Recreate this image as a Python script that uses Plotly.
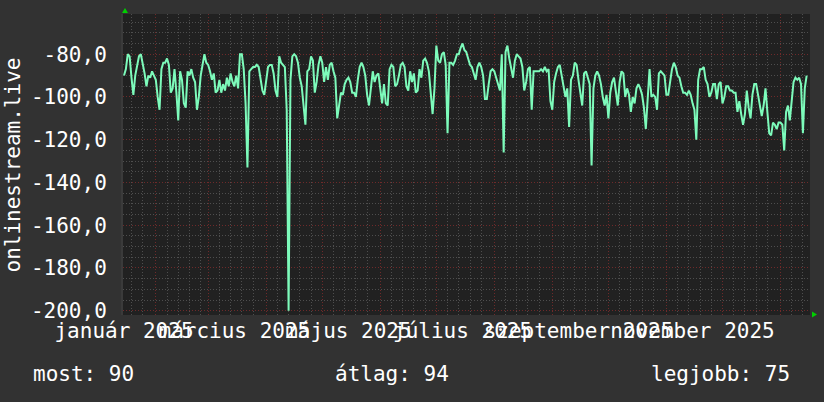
import pandas as pd
import plotly.graph_objects as go

# ---------------- data ----------------
start_date = "2025-01-15"
values = [
    -90, -87, -80, -81, -91, -99, -90, -85, -81, -80,
    -84, -89, -95, -90, -91, -88, -90, -92, -100, -106,
    -87, -84, -84, -82, -85, -98, -96, -87, -98, -111,
    -88, -92, -103, -105, -88, -90, -87, -91, -93, -106,
    -100, -90, -85, -80, -84, -85, -88, -92, -89, -98,
    -97, -92, -98, -94, -97, -91, -95, -89, -93, -95,
    -90, -96,
    -80, -80, -87, -103, -133, -88, -87, -86, -86, -85,
    -86, -91, -97, -99, -91, -86, -85, -85, -89, -97,
    -100, -81, -84, -85, -86, -106, -200, -92, -81, -80,
    -81, -84, -91, -95, -104, -113, -88, -87, -81, -83,
    -98, -93, -85, -81, -84, -93, -86, -92, -85, -84,
    -88, -91, -110, -104, -98, -99, -94, -92,
    -91, -93, -98, -98, -100, -92, -86, -84, -86, -90,
    -99, -104, -94, -88, -93, -90, -89, -95, -103, -94,
    -103, -104, -87, -85, -86, -95, -94, -90, -85, -84,
    -86, -95, -97, -88, -93, -89, -98, -97, -87, -91,
    -83, -82, -84, -88, -100, -108, -96, -76, -83, -84,
    -80, -79, -85, -117, -84, -84, -85, -83, -80, -80,
    -77, -75,
    -78, -79, -82, -85, -86, -89, -92, -86, -84, -86,
    -90, -101, -101, -94, -88, -87, -88, -91, -94, -97,
    -80, -126, -79, -76, -82, -86, -91, -83, -80, -81,
    -82, -86, -97, -93, -87, -86, -106, -88, -88, -88,
    -88, -87, -88, -86, -88, -87, -102, -106, -93, -89,
    -86, -85, -90, -94, -100, -96, -114, -92, -90, -84,
    -85, -92,
    -99, -104, -89, -88, -91, -94, -132, -96, -90, -88,
    -90, -94, -100, -104, -99, -110, -98, -93, -91, -97,
    -104, -93, -88, -89, -100, -96, -99, -107, -100, -103,
    -96, -94, -96, -99, -105, -115, -98, -87, -100, -99,
    -100, -106, -89, -88, -89, -90, -99, -99, -93, -87,
    -84, -86, -90, -91, -95, -98, -98, -99, -97, -99,
    -103, -106, -120, -92, -87, -87, -86, -92, -94, -100,
    -98, -94, -94, -101, -94, -93, -103, -100, -95, -95,
    -97, -97, -98, -98, -107, -102, -108, -113, -108, -97,
    -105, -110, -99, -94, -94, -99, -103, -109, -104, -96,
    -107, -117, -118, -112, -113, -115, -112, -112, -113, -125,
    -107, -104, -111, -100, -93, -91, -92, -91, -94, -117,
    -96, -90,
]
dates = pd.date_range(start_date, periods=len(values), freq="D")

x_label_dates = ["2025-01-15", "2025-03-15", "2025-05-15",
                 "2025-07-15", "2025-09-15", "2025-11-15"]
x_label_text = ["január 2025", "március 2025", "május 2025",
                "július 2025", "szeptember 2025", "november 2025"]

y_tick_vals = [-200, -180, -160, -140, -120, -100, -80]
y_tick_text = ["-200,0", "-180,0", "-160,0", "-140,0", "-120,0", "-100,0", "-80,0"]

y_title = "onlinestream.live"
stats_text = ["most: 90", "átlag: 94", "legjobb: 75"]

# grid positions (month starts = major, subdivisions = minor)
month_starts = pd.date_range("2025-02-01", "2026-01-01", freq="MS")
minor_dates = []
for ms in pd.date_range("2025-01-01", "2026-01-01", freq="MS"):
    for k in (6, 12, 18, 24):
        minor_dates.append(ms + pd.Timedelta(days=k))

x_range = ["2025-01-14 11:00", "2026-01-16 19:00"]
y_range = [-202, -61.2]

# ---------------- style ----------------
FONT = "DejaVu Sans Mono"
TXT = "#ffffff"
PAPER = "#323232"
PLOT = "#212121"
MINOR = "#4e4e4e"
MAJOR = "#6e2a2a"
LINE = "#7dfbbb"
ARROW = "#00d000"
DASH = "1px,2px"

fig = go.Figure()
fig.add_trace(go.Scatter(x=dates, y=values, mode="lines",
                         line=dict(color=LINE, width=2),
                         hoverinfo="skip", showlegend=False))
# invisible companion trace so the label axis exists
fig.add_trace(go.Scatter(x=[], y=[], xaxis="x2", yaxis="y",
                         showlegend=False, hoverinfo="skip"))

fig.update_layout(
    width=824, height=402,
    margin=dict(l=123, r=14, t=14, b=87),
    paper_bgcolor=PAPER, plot_bgcolor=PLOT,
    font=dict(family=FONT, size=21, color=TXT),
    showlegend=False,
    xaxis=dict(
        type="date", range=x_range,
        tickmode="array", tickvals=list(month_starts),
        showticklabels=False, ticks="",
        showgrid=True, gridcolor=MAJOR, gridwidth=1, griddash=DASH,
        minor=dict(tickmode="array", tickvals=minor_dates, showgrid=True,
                   gridcolor=MINOR, gridwidth=1, griddash=DASH, ticks=""),
        zeroline=False, showline=False,
    ),
    xaxis2=dict(
        type="date", range=x_range, overlaying="x", anchor="y", side="bottom",
        tickmode="array", tickvals=x_label_dates, ticktext=x_label_text,
        tickangle=0, showgrid=False, zeroline=False, showline=False,
        ticks="", ticklabelstandoff=1,
        tickfont=dict(family=FONT, size=21, color=TXT),
    ),
    yaxis=dict(
        range=y_range, tickmode="array", tickvals=y_tick_vals, ticktext=y_tick_text,
        showgrid=True, gridcolor=MAJOR, gridwidth=1, griddash=DASH,
        minor=dict(dtick=5, tick0=-200, showgrid=True, gridcolor=MINOR,
                   gridwidth=1, griddash=DASH, ticks=""),
        zeroline=False, showline=True, linecolor="#3a3a3a", linewidth=2,
        ticks="outside", ticklen=10, tickcolor="rgba(0,0,0,0)",
        tickfont=dict(family=FONT, size=21, color=TXT),
    ),
)

# y title
fig.add_annotation(text=y_title, xref="paper", yref="paper", x=-0.1601, y=0.4967,
                   xanchor="center", yanchor="middle", textangle=-90,
                   showarrow=False, font=dict(family=FONT, size=21, color=TXT))
# stats row
fig.add_annotation(text=stats_text[0], xref="paper", yref="paper", x=-0.1339, y=-0.196,
                   xanchor="left", yanchor="middle", showarrow=False,
                   font=dict(family=FONT, size=21, color=TXT))
fig.add_annotation(text=stats_text[1], xref="paper", yref="paper", x=0.305, y=-0.196,
                   xanchor="left", yanchor="middle", showarrow=False,
                   font=dict(family=FONT, size=21, color=TXT))
fig.add_annotation(text=stats_text[2], xref="paper", yref="paper", x=0.9738, y=-0.196,
                   xanchor="right", yanchor="middle", showarrow=False,
                   font=dict(family=FONT, size=21, color=TXT))

# axis arrows
fig.add_shape(type="path", xref="paper", yref="paper", xsizemode="pixel", ysizemode="pixel",
              xanchor=0, yanchor=1, path="M -1,1 L 5,1 L 2,6 Z",
              fillcolor=ARROW, line=dict(width=0))
fig.add_shape(type="path", xref="paper", yref="paper", xsizemode="pixel", ysizemode="pixel",
              xanchor=1, yanchor=0, path="M 2,3.5 L 2,-2.5 L 7,0.5 Z",
              fillcolor=ARROW, line=dict(width=0))

fig.write_html("out.html", config={"displayModeBar": False},
               post_script="document.body.style.margin='0';document.body.style.background='#323232';")
